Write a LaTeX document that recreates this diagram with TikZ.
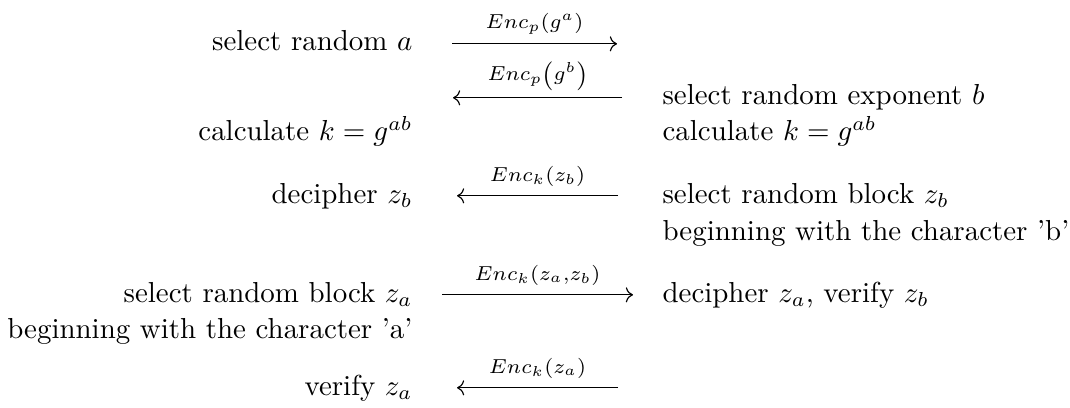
\documentclass[tikz,border=0pt]{standalone}
\usetikzlibrary{arrows.meta}
\begin{document}
\begin{tikzpicture}[x=0.34578pt,y=-0.34578pt,
  lt/.style={anchor=base east,inner sep=0pt},
  rt/.style={anchor=base west,inner sep=0pt},
  lbl/.style={anchor=base,inner sep=0pt},
  msg/.style={line width=0.4pt,-{Computer Modern Rightarrow}}]
\useasboundingbox (0,0) rectangle (1070,408);
% left column
\node[lt] (l1) at (413,51) {select random $a$};
\node[lt] (l3) at (413,141) {calculate $k=g^{ab}$};
\node[lt] (l4) at (413,203) {decipher $z_b$};
\node[lt] (l6) at (413,302) {select random block $z_a$};
\node[lt] (l7) at (413,338) {beginning with the character 'a'};
\node[lt] (l8) at (413,395) {verify $z_a$};
% right column
\node[rt] (r2) at (662,105) {select random exponent $b$};
\node[rt] (r3) at (662,141) {calculate $k=g^{ab}$};
\node[rt] (r4) at (662,203) {select random block $z_b$};
\node[rt] (r5) at (662,240) {beginning with the character 'b'};
\node[rt] (r6) at (662,302) {decipher $z_a$, verify $z_b$};
% arrow ends
\coordinate (a1s) at (452,43.8);   \coordinate (a1e) at (617,43.8);
\coordinate (a2s) at (622,97.8);   \coordinate (a2e) at (453,97.8);
\coordinate (a4s) at (618,195.8);  \coordinate (a4e) at (457,195.8);
\coordinate (a6s) at (442,294.8);  \coordinate (a6e) at (633,294.8);
\coordinate (a8s) at (618,387.8);  \coordinate (a8e) at (457,387.8);
\draw[msg] (a1s) -- (a1e);
\draw[msg] (a2s) -- (a2e);
\draw[msg] (a4s) -- (a4e);
\draw[msg] (a6s) -- (a6e);
\draw[msg] (a8s) -- (a8e);
% labels
\node[lbl] (m1) at (534.5,29) {$\scriptstyle Enc_p(g^a)$};
\node[lbl] (m2) at (537.5,81) {$\scriptstyle Enc_p\left(g^b\right)$};
\node[lbl] (m4) at (537.5,181) {$\scriptstyle Enc_k(z_b)$};
\node[lbl] (m6) at (537.5,280) {$\scriptstyle Enc_k(z_a,z_b)$};
\node[lbl] (m8) at (537.5,373) {$\scriptstyle Enc_k(z_a)$};
\end{tikzpicture}
\end{document}
